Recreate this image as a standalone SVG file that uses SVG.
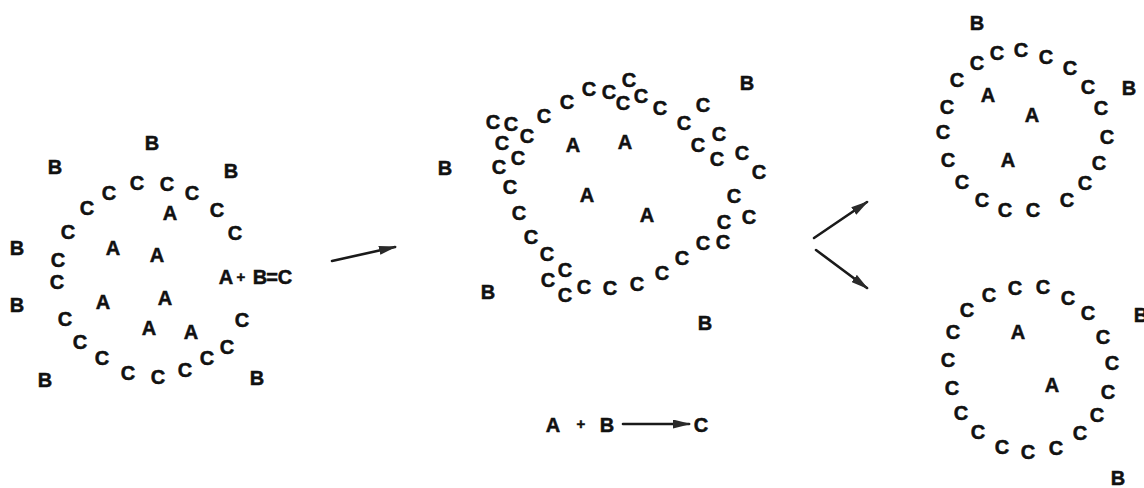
<svg xmlns="http://www.w3.org/2000/svg" width="1144" height="488" viewBox="0 0 1144 488">
  <style>
    text { font-family: "Liberation Sans", Arial, Helvetica, sans-serif; font-weight: bold; font-size: 20px; fill: #111; stroke: #111; stroke-width: 0.5; text-anchor: middle; }
    text.plus { font-size: 15px; }
    .arrow { stroke: #1a1a1a; stroke-width: 2.6; fill: none; stroke-linecap: round; }
  </style>
  <defs>
    <marker id="head" viewBox="0 0 18 9" markerWidth="18" markerHeight="9" refX="16" refY="4.5" orient="auto" markerUnits="userSpaceOnUse">
      <path d="M0,0 L18,4.5 L0,9 Z" fill="#2a2a2a"/>
    </marker>
  </defs>
  <rect width="1144" height="488" fill="#fff"/>

  <!-- Stage 1: cell of A inside a ring of C, B outside -->
  <g id="stage1" transform="translate(0,0.5)">
    <g id="stage1-B">
      <text x="152" y="149.5">B</text>
      <text x="55" y="173.5">B</text>
      <text x="231" y="177.5">B</text>
      <text x="17" y="254.5">B</text>
      <text x="17" y="311.5">B</text>
      <text x="45" y="386.5">B</text>
      <text x="257" y="384.5">B</text>
    </g>
    <g id="stage1-C">
      <text x="68" y="238.5">C</text>
      <text x="87" y="214.5">C</text>
      <text x="109" y="199.5">C</text>
      <text x="137" y="189.5">C</text>
      <text x="167" y="190.5">C</text>
      <text x="192" y="199.5">C</text>
      <text x="217" y="216.5">C</text>
      <text x="235" y="239.5">C</text>
      <text x="58" y="266.5">C</text>
      <text x="57" y="288.5">C</text>
      <text x="65" y="325.5">C</text>
      <text x="242" y="326.5">C</text>
      <text x="80" y="348.5">C</text>
      <text x="227" y="353.5">C</text>
      <text x="102" y="364.5">C</text>
      <text x="207" y="364.5">C</text>
      <text x="128" y="379.5">C</text>
      <text x="158" y="383.5">C</text>
      <text x="185" y="376.5">C</text>
    </g>
    <g id="stage1-A">
      <text x="170" y="219.5">A</text>
      <text x="113" y="254.5">A</text>
      <text x="157" y="261.5">A</text>
      <text x="103" y="308.5">A</text>
      <text x="165" y="304.5">A</text>
      <text x="149" y="334.5">A</text>
      <text x="191" y="338.5">A</text>
    </g>
    <g id="stage1-equation">
      <text x="226" y="283">A</text>
      <text class="plus" x="241" y="281">+</text>
      <text x="260" y="283">B</text>
      <text x="272" y="283">=</text>
      <text x="285" y="283">C</text>
    </g>
  </g>

  <!-- Stage 2: the ring thickens and deforms -->
  <g id="stage2" transform="translate(0,0.5)">
    <g id="stage2-B">
      <text x="747" y="89.5">B</text>
      <text x="445" y="174.5">B</text>
      <text x="488" y="298.5">B</text>
      <text x="705" y="329.5">B</text>
    </g>
    <g id="stage2-C">
      <text x="493" y="128.5">C</text>
      <text x="511" y="130.5">C</text>
      <text x="527" y="142.5">C</text>
      <text x="502" y="149.5">C</text>
      <text x="518" y="164.5">C</text>
      <text x="499" y="173.5">C</text>
      <text x="510" y="193.5">C</text>
      <text x="519" y="219.5">C</text>
      <text x="531" y="243.5">C</text>
      <text x="547" y="260.5">C</text>
      <text x="565" y="276.5">C</text>
      <text x="548" y="286.5">C</text>
      <text x="565" y="301.5">C</text>
      <text x="584" y="293.5">C</text>
      <text x="610" y="294.5">C</text>
      <text x="637" y="290.5">C</text>
      <text x="662" y="279.5">C</text>
      <text x="682" y="264.5">C</text>
      <text x="703" y="249.5">C</text>
      <text x="723" y="248.5">C</text>
      <text x="724" y="228.5">C</text>
      <text x="749" y="223.5">C</text>
      <text x="734" y="202.5">C</text>
      <text x="759" y="178.5">C</text>
      <text x="742" y="159.5">C</text>
      <text x="717" y="165.5">C</text>
      <text x="698" y="151.5">C</text>
      <text x="719" y="140.5">C</text>
      <text x="684" y="129.5">C</text>
      <text x="703" y="111.5">C</text>
      <text x="660" y="114.5">C</text>
      <text x="641" y="102.5">C</text>
      <text x="623" y="109.5">C</text>
      <text x="629" y="86.5">C</text>
      <text x="609" y="98.5">C</text>
      <text x="589" y="95.5">C</text>
      <text x="567" y="108.5">C</text>
      <text x="544" y="122.5">C</text>
    </g>
    <g id="stage2-A">
      <text x="573" y="151.5">A</text>
      <text x="625" y="148.5">A</text>
      <text x="587" y="201.5">A</text>
      <text x="647" y="221.5">A</text>
    </g>
    <g id="stage2-equation">
      <text x="553" y="431">A</text>
      <text class="plus" x="581" y="428.5">+</text>
      <text x="607" y="431">B</text>
      <text x="701" y="431">C</text>
    </g>
  </g>

  <!-- Stage 3a: upper daughter cell -->
  <g id="stage3-upper" transform="translate(0,0.5)">
    <g id="upper-B">
      <text x="977" y="29.5">B</text>
      <text x="1129" y="94.5">B</text>
    </g>
    <g id="upper-C">
      <text x="977" y="69.5">C</text>
      <text x="997" y="59.5">C</text>
      <text x="1021" y="56.5">C</text>
      <text x="1046" y="63.5">C</text>
      <text x="1070" y="74.5">C</text>
      <text x="1088" y="93.5">C</text>
      <text x="1101" y="114.5">C</text>
      <text x="1107" y="143.5">C</text>
      <text x="1099" y="169.5">C</text>
      <text x="1085" y="189.5">C</text>
      <text x="1067" y="206.5">C</text>
      <text x="1033" y="216.5">C</text>
      <text x="1005" y="216.5">C</text>
      <text x="982" y="206.5">C</text>
      <text x="962" y="188.5">C</text>
      <text x="948" y="166.5">C</text>
      <text x="943" y="138.5">C</text>
      <text x="947" y="113.5">C</text>
      <text x="957" y="86.5">C</text>
    </g>
    <g id="upper-A">
      <text x="988" y="101.5">A</text>
      <text x="1032" y="121.5">A</text>
      <text x="1008" y="166.5">A</text>
    </g>
  </g>

  <!-- Stage 3b: lower daughter cell -->
  <g id="stage3-lower" transform="translate(0,0.5)">
    <g id="lower-B">
      <text x="1141" y="321.5">B</text>
      <text x="1118" y="484.5">B</text>
    </g>
    <g id="lower-C">
      <text x="967" y="316.5">C</text>
      <text x="989" y="301.5">C</text>
      <text x="1015" y="294.5">C</text>
      <text x="1043" y="293.5">C</text>
      <text x="1068" y="304.5">C</text>
      <text x="1088" y="319.5">C</text>
      <text x="1103" y="343.5">C</text>
      <text x="1112" y="369.5">C</text>
      <text x="1108" y="398.5">C</text>
      <text x="1097" y="421.5">C</text>
      <text x="1080" y="439.5">C</text>
      <text x="1056" y="454.5">C</text>
      <text x="1028" y="458.5">C</text>
      <text x="1002" y="453.5">C</text>
      <text x="978" y="438.5">C</text>
      <text x="961" y="419.5">C</text>
      <text x="952" y="394.5">C</text>
      <text x="948" y="366.5">C</text>
      <text x="953" y="338.5">C</text>
    </g>
    <g id="lower-A">
      <text x="1018" y="338.5">A</text>
      <text x="1052" y="391.5">A</text>
    </g>
  </g>

  <!-- Transition arrows -->
  <g id="connectors">
    <line class="arrow" x1="332" y1="261" x2="395" y2="247" marker-end="url(#head)"/>
    <line class="arrow" x1="623" y1="424" x2="689" y2="424" marker-end="url(#head)"/>
    <line class="arrow" x1="814" y1="238" x2="867" y2="202" marker-end="url(#head)"/>
    <line class="arrow" x1="816" y1="250" x2="867" y2="288" marker-end="url(#head)"/>
  </g>
</svg>
